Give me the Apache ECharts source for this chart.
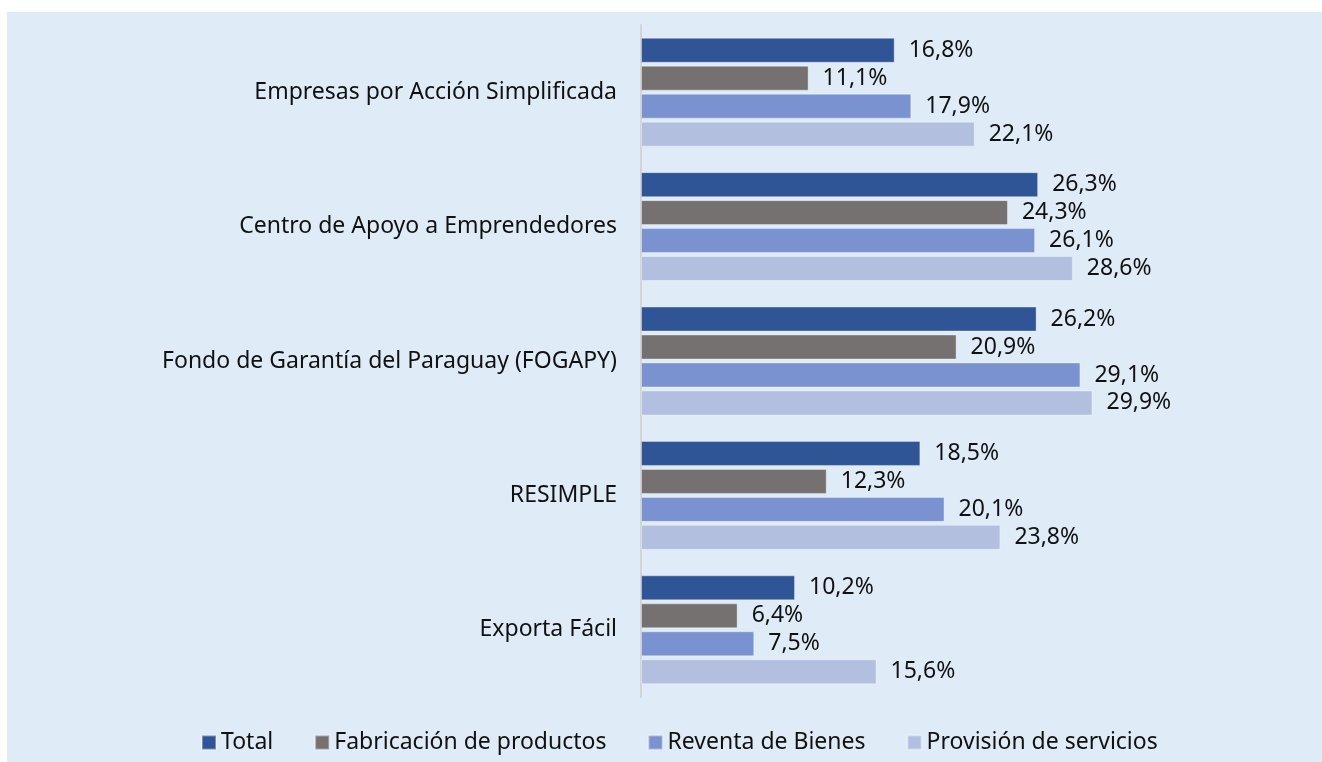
<!DOCTYPE html>
<html>
<head>
<meta charset="utf-8">
<script src="https://cdn.jsdelivr.net/npm/echarts@6/dist/echarts.min.js"></script>
<style>
  html, body { margin: 0; padding: 0; background: #fff; }
  #chart { width: 1322px; height: 762px; }
</style>
</head>
<body>
<div id="chart"></div>
<script>
const categories = [
  'Empresas por Acción Simplificada',
  'Centro de Apoyo a Emprendedores',
  'Fondo de Garantía del Paraguay (FOGAPY)',
  'RESIMPLE',
  'Exporta Fácil'
]
const seriesNames = ['Total', 'Fabricación de productos', 'Reventa de Bienes', 'Provisión de servicios']
const total = [16.8, 26.3, 26.2, 18.5, 10.2]
const fabricacion = [11.1, 24.3, 20.9, 12.3, 6.4]
const reventa = [17.9, 26.1, 29.1, 20.1, 7.5]
const provision = [22.1, 28.6, 29.9, 23.8, 15.6]
const colors = ['#2F5597', '#767171', '#7A92D0', '#B3BFDF']

const font = '"Noto Sans", sans-serif'
const chart = echarts.init(document.getElementById('chart'))

const makeSeries = (name, data, i) => ({
  name: name,
  type: 'bar',
  data: data,
  barGap: '12%',
  barCategoryGap: '19%',
  itemStyle: { color: colors[i], borderColor: 'rgba(255,255,255,0.35)', borderWidth: 1 },
  label: {
    show: true,
    position: 'right',
    distance: 14,
    color: '#111',
    fontFamily: font,
    fontSize: 23,
    formatter: (p) => p.value.toFixed(1).replace('.', ',') + '%'
  }
})

chart.setOption({
  backgroundColor: '#fff',
  animation: false,
  graphic: [{
    type: 'rect',
    z: -10,
    shape: { x: 7, y: 12, width: 1315, height: 750 },
    style: { fill: '#DFECF8' }
  }],
  grid: { left: 641, top: 25, width: 604, height: 672 },
  xAxis: {
    type: 'value',
    min: 0,
    max: 40,
    show: false
  },
  yAxis: {
    type: 'category',
    inverse: true,
    data: categories,
    axisLine: { show: true, lineStyle: { color: '#D4D4D4', width: 2 } },
    axisTick: { show: false },
    axisLabel: { color: '#111', fontFamily: font, fontSize: 23, margin: 24 }
  },
  legend: {
    bottom: 3,
    left: 196,
    itemWidth: 14,
    itemHeight: 14,
    itemGap: 41,
    icon: 'rect',
    textStyle: { color: '#111', fontFamily: font, fontSize: 23 },
    data: seriesNames
  },
  series: [
    makeSeries(seriesNames[0], total, 0),
    makeSeries(seriesNames[1], fabricacion, 1),
    makeSeries(seriesNames[2], reventa, 2),
    makeSeries(seriesNames[3], provision, 3)
  ]
})
</script>
</body>
</html>
